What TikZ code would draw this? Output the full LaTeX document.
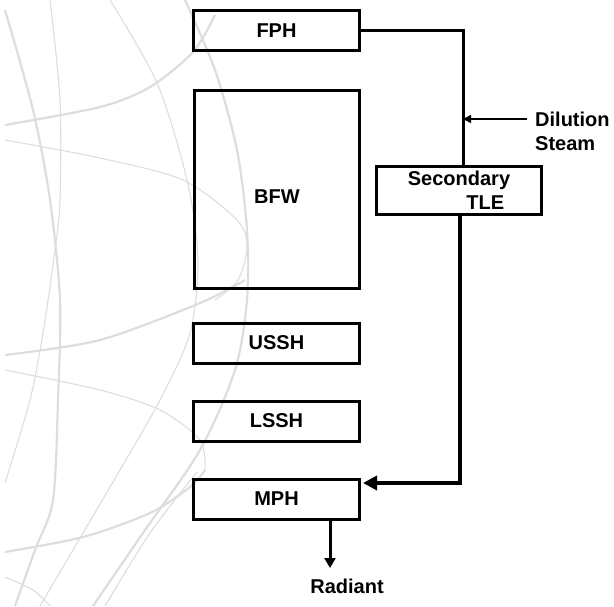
\documentclass[tikz,border=0pt]{standalone}
\usepackage{fontspec}
\setmainfont{Liberation Sans}
\usetikzlibrary{arrows.meta}
\definecolor{globe}{HTML}{DCDDDF}
\tikzset{
  box/.style={draw=black, line width=3pt, inner sep=0pt, font=\fontsize{20}{24}\selectfont\bfseries},
  lbl/.style={inner sep=0pt, font=\fontsize{20}{24}\selectfont\bfseries},
  conn/.style={draw=black, line width=3pt},
  bigarrow/.style={draw=black, line width=4pt, -{Triangle[length=14pt,width=14pt]}},
  medarrow/.style={draw=black, line width=3pt, -{Triangle[length=10pt,width=11pt]}},
  thinarrow/.style={draw=black, line width=1.4pt, -{Triangle[length=8pt,width=8pt]}},
  arcthin/.style={draw=globe, line width=1.1pt},
  arcthick/.style={draw=globe, line width=2.2pt}
}
\begin{document}
\begin{tikzpicture}[x=1pt,y=-1pt]
\useasboundingbox (0,0) rectangle (614,606);
% background globe arcs
\draw[arcthick] plot[smooth] coordinates {(185,0) (215,70) (237,150) (247,230) (247,300) (235,370) (200,450) (143,533) (93,606)};
\draw[arcthin] plot[smooth] coordinates {(110,0) (157,83) (187,180) (198,260) (190,333) (160,400) (120,470) (83,533) (40,606)};
\draw[arcthick] plot[smooth] coordinates {(5,10) (33,110) (50,200) (60,300) (58,400) (53,500) (35,550) (15,606)};
\draw[arcthin] plot[smooth] coordinates {(50,0) (60,100) (60,200) (55,250) (43,333) (30,400) (5,483)};
\draw[arcthick] plot[smooth] coordinates {(5,125) (100,107) (150,87) (193,52) (215,15)};
\draw[arcthin] plot[smooth] coordinates {(5,140) (100,158) (183,180) (237,220) (247,247) (238,280) (215,300)};
\draw[arcthick] plot[smooth] coordinates {(5,355) (100,340) (200,303) (245,280)};
\draw[arcthin] plot[smooth] coordinates {(5,370) (100,390) (160,410) (200,440) (205,470)};
\draw[arcthick] plot[smooth] coordinates {(5,552) (83,537) (150,513) (190,487) (205,470)};
\draw[arcthin] plot[smooth] coordinates {(5,577) (33,590) (50,606)};
\draw[arcthin] plot[smooth] coordinates {(197,472) (150,533) (105,606)};
% boxes
\node[box, minimum width=166pt, minimum height=40pt] (fph) at (276.5,30.5) {FPH};
\node[box, minimum width=165pt, minimum height=198pt] (bfw) at (277,189.5) {};
\node[lbl] (bfwl) at (277,197) {BFW};
\node[box, minimum width=166pt, minimum height=40pt] (ussh) at (276.5,343) {USSH};
\node[box, minimum width=166pt, minimum height=40pt] (lssh) at (276.5,421) {LSSH};
\node[box, minimum width=166pt, minimum height=40pt] (mph) at (276.5,499) {MPH};
\node[box, minimum width=165pt, minimum height=48pt, align=right] (tle) at (459,190.5) {Secondary\\TLE\hspace*{6pt}};
% connectors
\coordinate (c1) at (463,30.5);
\draw[conn] (fph.east) -- (c1) -- (c1 |- tle.north);
\coordinate (ds) at (527,119);
\draw[thinarrow] (ds) -- (ds -| c1);
\node[lbl, anchor=west, align=left] (dil) at (535,131) {Dilution\\Steam};
\coordinate (c2) at (460,483);
\draw[bigarrow, shorten >=2pt] (c2 |- tle.south) -- (c2) -- (c2 -| mph.east);
\coordinate (rtip) at (330,568);
\draw[medarrow] (rtip |- mph.south) -- (rtip);
\node[lbl] (rad) at (347,586) {Radiant};
\end{tikzpicture}
\end{document}
